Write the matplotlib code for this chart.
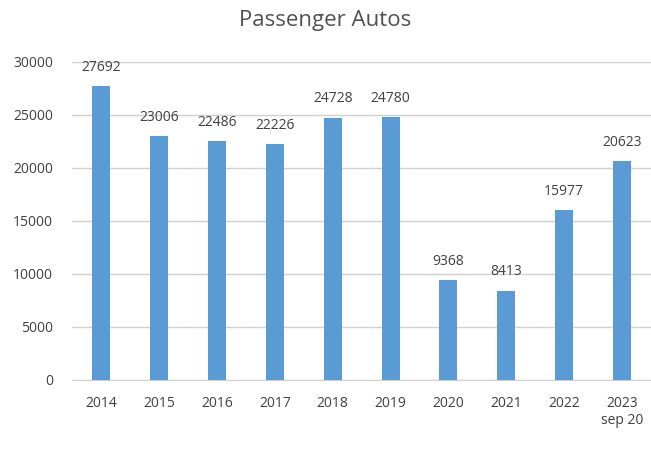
import matplotlib.pyplot as plt

# Passenger autos per year (2023 is year-to-date, through Sep 20)
years = ["2014", "2015", "2016", "2017", "2018", "2019", "2020", "2021", "2022", "2023\nsep 20"]
autos = [27692, 23006, 22486, 22226, 24728, 24780, 9368, 8413, 15977, 20623]

BAR_COLOR = "#5B9BD5"
TEXT_COLOR = "#404040"
GRID_COLOR = "#D0D0D0"

plt.rcParams["font.family"] = ["Open Sans", "DejaVu Sans"]

fig = plt.figure(figsize=(6.51, 4.5), dpi=100)
ax = fig.add_axes([0.111, 0.156, 0.889, 0.707])

x = range(len(years))
bars = ax.bar(x, autos, width=0.31, color=BAR_COLOR, zorder=3)

for xi, v in zip(x, autos):
    ax.annotate(f"{v}", (xi, v), xytext=(0, 8), textcoords="offset points",
                ha="center", va="bottom", fontsize=10, color=TEXT_COLOR)

ax.set_xlim(-0.5, len(years) - 0.5)
ax.set_ylim(0, 30000)
ax.set_yticks(range(0, 30001, 5000))
ax.set_xticks(list(x))
ax.set_xticklabels(years, va="top", linespacing=1.1)
ax.tick_params(axis="both", length=0, labelsize=10, colors=TEXT_COLOR)
ax.tick_params(axis="x", pad=12)
ax.tick_params(axis="y", pad=14)

ax.yaxis.grid(True, color=GRID_COLOR, linewidth=1, zorder=0)
for side in ["top", "right", "left"]:
    ax.spines[side].set_visible(False)
ax.spines["bottom"].set_color(GRID_COLOR)

fig.text(0.5, 0.955, "Passenger Autos", ha="center", va="center",
         fontsize=16, color="#505050")

fig.savefig("out.png", dpi=100)
